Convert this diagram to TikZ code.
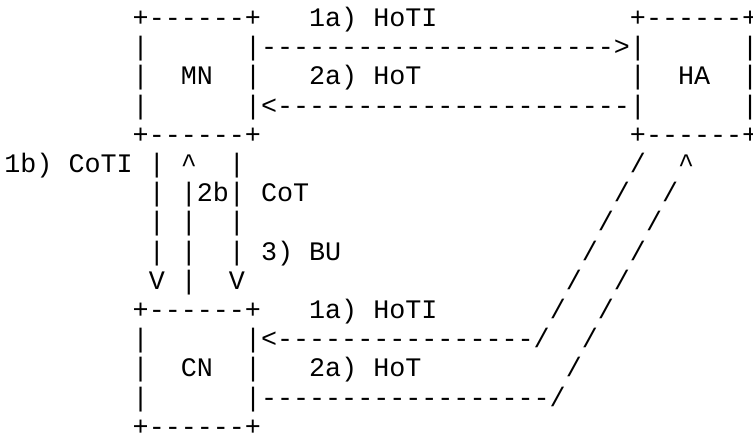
\documentclass[tikz,border=0pt]{standalone}
\usepackage{fontspec}
\setmonofont{Liberation Mono}
\ExplSyntaxOn
\cs_new:Npn \dsh #1 {\prg_replicate:nn{#1}{-}}
\ExplSyntaxOff
\newcommand\cw{16.04}
\newcommand\lh{29.2}
\newcommand\asc[3]{\node[asc] (r#1c#2) at ({4.4+#2*\cw*1pt}, {(439-26.6-(#1-1)*\lh)*1pt}) {#3};}
\newcommand\caret{\textasciicircum}
\begin{document}
\begin{tikzpicture}[x=1pt,y=1pt,
  asc/.style={anchor=base west, inner sep=0pt, outer sep=0pt,
    font=\ttfamily\frenchspacing\fontsize{26.73pt}{29.2pt}\selectfont}]
\fill[white] (0,0) rectangle (753,439);
\useasboundingbox (0,0) rectangle (753,439);
% row 1
\asc{1}{8}{+\dsh{6}+}
\asc{1}{19}{1a) HoTI}
\asc{1}{39}{+\dsh{6}+}
% row 2
\asc{2}{8}{|}
\asc{2}{15}{|\dsh{22}>|}
\asc{2}{46}{|}
% row 3
\asc{3}{8}{|}
\asc{3}{11}{MN}
\asc{3}{15}{|}
\asc{3}{19}{2a) HoT}
\asc{3}{39}{|}
\asc{3}{42}{HA}
\asc{3}{46}{|}
% row 4
\asc{4}{8}{|}
\asc{4}{15}{|<\dsh{22}|}
\asc{4}{46}{|}
% row 5
\asc{5}{8}{+\dsh{6}+}
\asc{5}{39}{+\dsh{6}+}
% row 6
\asc{6}{0}{1b) CoTI}
\asc{6}{9}{|}
\asc{6}{11}{\caret}
\asc{6}{14}{|}
\asc{6}{39}{/}
\asc{6}{42}{\caret}
% row 7
\asc{7}{9}{|}
\asc{7}{11}{|2b|}
\asc{7}{16}{CoT}
\asc{7}{38}{/}
\asc{7}{41}{/}
% row 8
\asc{8}{9}{|}
\asc{8}{11}{|}
\asc{8}{14}{|}
\asc{8}{37}{/}
\asc{8}{40}{/}
% row 9
\asc{9}{9}{|}
\asc{9}{11}{|}
\asc{9}{14}{|}
\asc{9}{16}{3) BU}
\asc{9}{36}{/}
\asc{9}{39}{/}
% row 10
\asc{10}{9}{V}
\asc{10}{11}{|}
\asc{10}{14}{V}
\asc{10}{35}{/}
\asc{10}{38}{/}
% row 11
\asc{11}{8}{+\dsh{6}+}
\asc{11}{19}{1a) HoTI}
\asc{11}{34}{/}
\asc{11}{37}{/}
% row 12
\asc{12}{8}{|}
\asc{12}{15}{|<\dsh{16}/}
\asc{12}{36}{/}
% row 13
\asc{13}{8}{|}
\asc{13}{11}{CN}
\asc{13}{15}{|}
\asc{13}{19}{2a) HoT}
\asc{13}{35}{/}
% row 14
\asc{14}{8}{|}
\asc{14}{15}{|\dsh{18}/}
% row 15
\asc{15}{8}{+\dsh{6}+}
\end{tikzpicture}
\end{document}
